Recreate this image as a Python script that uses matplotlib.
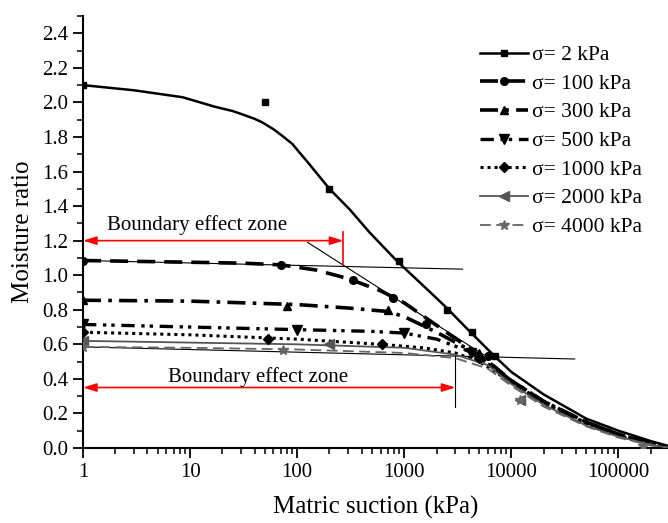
import numpy as np
import matplotlib
matplotlib.use("Agg")
import matplotlib.pyplot as plt
from matplotlib.lines import Line2D
from matplotlib.ticker import FixedLocator, NullFormatter, MultipleLocator

plt.rcParams['font.family'] = ['Liberation Serif', 'DejaVu Serif']

# fitted curves (suction in kPa, moisture ratio)
c2_x = [1, 3, 8.5, 17, 25, 31, 40, 47, 60, 73, 90, 105, 125, 150, 200, 310, 470, 860, 1500,
        2500, 4000, 7000, 10000, 20000, 50000, 100000, 200000, 300000]
c2_y = [2.10, 2.07, 2.03, 1.975, 1.95, 1.93, 1.905, 1.885, 1.845, 1.805, 1.76, 1.71, 1.655,
        1.595, 1.50, 1.38, 1.25, 1.08, 0.94, 0.81, 0.68, 0.53, 0.44, 0.31, 0.17, 0.10, 0.04, 0.01]
c100_x = [1, 10, 30, 70, 150, 300, 600, 1000, 2000, 4000, 7000, 10000, 20000, 50000, 100000,
          200000, 300000]
c100_y = [1.085, 1.075, 1.07, 1.06, 1.03, 0.98, 0.91, 0.84, 0.71, 0.58, 0.47, 0.39, 0.27,
          0.15, 0.08, 0.03, 0.0]
c300_x = [1, 10, 100, 300, 700, 1000, 2000, 4000, 7000, 10000, 20000, 50000, 100000, 200000,
          300000]
c300_y = [0.855, 0.85, 0.83, 0.81, 0.79, 0.76, 0.67, 0.57, 0.46, 0.39, 0.27, 0.15, 0.08,
          0.025, 0.0]
c500_x = [1, 10, 100, 500, 1000, 2000, 4000, 7000, 10000, 20000, 50000, 100000, 200000, 300000]
c500_y = [0.715, 0.70, 0.685, 0.675, 0.665, 0.63, 0.56, 0.46, 0.38, 0.265, 0.145, 0.075,
          0.025, 0.0]
c1000_x = [1, 10, 100, 600, 1500, 3000, 5000, 10000, 20000, 50000, 100000, 200000, 300000]
c1000_y = [0.67, 0.655, 0.63, 0.60, 0.58, 0.55, 0.50, 0.38, 0.26, 0.14, 0.07, 0.02, 0.0]
c2000_x = [1, 10, 100, 1000, 3000, 6000, 10000, 20000, 50000, 100000, 200000, 300000]
c2000_y = [0.62, 0.61, 0.60, 0.58, 0.54, 0.48, 0.37, 0.25, 0.13, 0.065, 0.02, 0.0]
c4000_x = [1, 10, 100, 1000, 3000, 6000, 10000, 20000, 50000, 100000, 200000, 300000]
c4000_y = [0.585, 0.58, 0.57, 0.55, 0.52, 0.46, 0.36, 0.24, 0.125, 0.06, 0.015, 0.0]

# measured points
p2_x = [1, 50, 200, 900, 2500, 4300, 7000]
p2_y = [2.10, 2.00, 1.50, 1.08, 0.80, 0.67, 0.53]
p100_x = [1, 70, 330, 780, 1600, 6000]
p100_y = [1.085, 1.06, 0.97, 0.87, 0.72, 0.53]
p300_x = [1, 80, 700, 5000]
p300_y = [0.855, 0.82, 0.80, 0.55]
p500_x = [1, 100, 1000, 4200]
p500_y = [0.715, 0.68, 0.665, 0.55]
p1000_x = [1, 53, 620, 5000]
p1000_y = [0.67, 0.63, 0.60, 0.52]
p2000_x = [1, 200, 12000]
p2000_y = [0.62, 0.60, 0.28]
p4000_x = [1, 73, 12000, 170000]
p4000_y = [0.585, 0.57, 0.28, 0.01]

labels = ['σ= 2 kPa', 'σ= 100 kPa', 'σ= 300 kPa', 'σ= 500 kPa',
          'σ= 1000 kPa', 'σ= 2000 kPa', 'σ= 4000 kPa']

series = [
    (c2_x, c2_y, p2_x, p2_y, 'k', '-', 1.8, 's', 5),
    (c100_x, c100_y, p100_x, p100_y, 'k', (0, (5, 2.5)), 2.6, 'o', 5.5),
    (c300_x, c300_y, p300_x, p300_y, 'k', (0, (5, 2, 1, 2)), 2.6, '^', 6),
    (c500_x, c500_y, p500_x, p500_y, 'k', (0, (4, 2, 1, 1.5, 1, 2)), 2.4, 'v', 6.5),
    (c1000_x, c1000_y, p1000_x, p1000_y, 'k', (0, (1, 1.3)), 2.2, 'D', 5),
    (c2000_x, c2000_y, p2000_x, p2000_y, '#555555', '-', 1.3, '<', 6.5),
    (c4000_x, c4000_y, p4000_x, p4000_y, '#666666', (0, (6, 3)), 1.3, '*', 7.5),
]

fig = plt.figure(figsize=(6.68, 5.23), dpi=100)
ax = fig.add_axes([83 / 668, 75 / 523, 585 / 668, 432 / 523])

handles = []
for cx, cy, px, py, col, ls, lw, mk, ms in series:
    ax.plot(cx, cy, color=col, linestyle=ls, linewidth=lw, zorder=3)
    ax.plot(px, py, linestyle='none', marker=mk, color=col, markersize=ms, zorder=4)
    handles.append(Line2D([], [], color=col, linestyle=ls, linewidth=lw, marker=mk, markersize=ms))

# construction lines
ax.plot([1, 3500], [1.085, 1.035], color='k', lw=0.8, zorder=2)
ax.plot([125, 5500], [1.19, 0.54], color='k', lw=0.8, zorder=2)
ax.plot([1, 39000], [0.585, 0.515], color='k', lw=0.8, zorder=2)
ax.plot([3000, 3000], [0.55, 0.235], color='k', lw=0.8, zorder=2)
ax.plot([270, 270], [1.065, 1.25], color='red', lw=1.2, zorder=2)

arrow = dict(arrowstyle='<|-|>,head_length=0.8,head_width=0.25', color='red', lw=1.2,
             shrinkA=0, shrinkB=0)
ax.annotate('', xy=(1, 1.2), xytext=(270, 1.2), arrowprops=arrow)
ax.annotate('', xy=(1, 0.35), xytext=(3000, 0.35), arrowprops=arrow)
ax.text(11.7, 1.29, 'Boundary effect zone', fontsize=15, ha='center', va='center')
ax.text(42.8, 0.41, 'Boundary effect zone', fontsize=15, ha='center', va='center')

ax.set_xscale('log')
ax.set_xlim(1, 2.9e5)
ax.set_ylim(0, 2.5)
ax.set_xticks([1, 10, 100, 1000, 10000, 100000])
ax.set_xticklabels(['1', '10', '100', '1000', '10000', '100000'])
minor = [m * 10 ** d for d in range(0, 6) for m in range(2, 10)]
ax.xaxis.set_minor_locator(FixedLocator(minor))
ax.xaxis.set_minor_formatter(NullFormatter())
ax.set_yticks(np.arange(0, 2.41, 0.2))
ax.set_yticklabels(['%.1f' % v for v in np.arange(0, 2.41, 0.2)])
ax.yaxis.set_minor_locator(MultipleLocator(0.1))

ax.tick_params(which='major', direction='out', length=7, width=1.3, labelsize=15)
ax.tick_params(which='minor', direction='out', length=4, width=1.1)
ax.spines['top'].set_visible(False)
ax.spines['right'].set_visible(False)
for s in ['left', 'bottom']:
    ax.spines[s].set_linewidth(1.5)

ax.set_xlabel('Matric suction (kPa)', fontsize=18, labelpad=10)
ax.set_ylabel('Moisture ratio', fontsize=18, labelpad=6)

fig.legend(handles, labels, loc='upper left', bbox_to_anchor=(480 / 668, 1 - 45 / 523),
           frameon=False, fontsize=15.5, handlelength=2.23, handletextpad=0.2,
           labelspacing=0.4, borderpad=0, borderaxespad=0)

fig.savefig('out.png', dpi=100)
